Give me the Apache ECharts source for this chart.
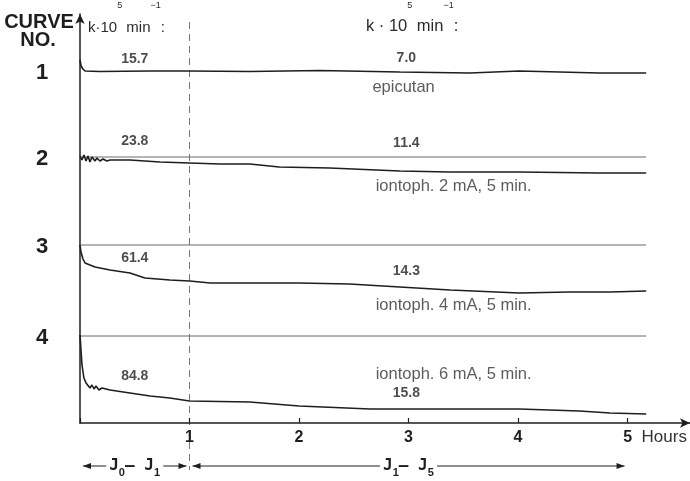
<!DOCTYPE html>
<html>
<head>
<meta charset="utf-8">
<script src="https://cdn.jsdelivr.net/npm/echarts@6/dist/echarts.min.js"></script>
<style>
  html, body { margin: 0; background: #fff; }
  #chart { width: 690px; height: 481px; }
</style>
</head>
<body>
<div id="chart"></div>
<script>
// x = hours, y = trace height above the time axis (arbitrary recorder units)
const curve1 = [[0, 363], [0.01, 357], [0.027, 354], [0.046, 352], [0.18, 351.5], [0.64, 352], [1.0, 352],
  [1.55, 351.5], [2.19, 352.5], [2.92, 351], [3.56, 350], [4.01, 352], [4.38, 351], [4.74, 350], [5.17, 350]]
const curve2 = [[0, 267], [0.018, 263], [0.036, 268], [0.055, 262], [0.073, 267], [0.091, 261], [0.109, 266],
  [0.137, 262], [0.155, 265], [0.182, 262], [0.21, 264], [0.246, 262], [0.274, 263], [0.456, 263], [0.73, 261],
  [1.0, 260], [1.28, 259], [1.55, 259], [1.82, 256], [2.28, 255], [2.92, 252], [3.38, 251], [4.01, 251],
  [4.74, 250], [5.02, 250], [5.17, 250]]
const curve3 = [[0, 178], [0.009, 171], [0.027, 164], [0.046, 160], [0.091, 158], [0.137, 156], [0.274, 153],
  [0.456, 150], [0.593, 145], [0.82, 143], [1.0, 142], [1.19, 140], [1.55, 140], [2.0, 140], [2.46, 139],
  [2.92, 136], [3.38, 133], [4.01, 130], [4.47, 131], [4.84, 131], [5.17, 132]]
const curve4 = [[0, 88], [0.009, 73], [0.018, 58], [0.036, 45], [0.055, 40], [0.073, 38], [0.091, 35],
  [0.109, 38], [0.128, 34], [0.146, 37], [0.173, 33], [0.2, 35], [0.274, 33], [0.456, 30], [0.64, 27],
  [0.82, 25], [1.0, 22], [1.55, 21], [2.0, 17], [2.65, 14], [3.38, 14], [4.01, 14], [4.56, 12], [4.84, 10],
  [5.17, 9]]

const curveNames = ['1', '2', '3', '4']
const baselines = [352, 266, 178, 87]      // zero line of each trace
const traceEnd = 5.17                      // hours recorded

// rate constants k·10^5 min^-1, first hour and hours 1-5
const rateEarly = ['15.7', '23.8', '61.4', '84.8']
const rateEarlyAt = [[0.50, 364], [0.50, 282], [0.50, 165], [0.50, 47]]
const rateLate = ['7.0', '11.4', '14.3', '15.8']
const rateLateAt = [[2.98, 365], [2.98, 280], [2.98, 152], [2.98, 30]]
const conditions = ['epicutan', 'iontoph. 2 mA, 5 min.', 'iontoph. 4 mA, 5 min.', 'iontoph. 6 mA, 5 min.']
const conditionAt = [[2.67, 336], [2.70, 237], [2.70, 118], [2.70, 49]]

const hourTicks = [1, 2, 3, 4, 5]
const periods = [
  { from: 0, to: 1, sub: ['0', '1'] },
  { from: 1, to: 5, sub: ['1', '5'] }
]

const FONT = 'Liberation Sans, Arial, sans-serif'
const NARROW = '"Liberation Sans Narrow", ' + FONT
const INK = '#1e1e1e'

const traceSeries = [curve1, curve2, curve3, curve4].map((d, i) => ({
  name: 'curve ' + curveNames[i],
  type: 'line',
  data: d,
  showSymbol: false,
  silent: true,
  z: 3,
  lineStyle: { color: INK, width: 1.6 }
}))

const baseSeries = baselines.slice(1).map(b => ({
  type: 'line',
  data: [[0, b], [traceEnd, b]],
  showSymbol: false,
  silent: true,
  z: 2,
  lineStyle: { color: '#6a6a6a', width: 1 }
}))

function labelSeries(texts, pos, opts) {
  return {
    type: 'scatter',
    symbolSize: 0,
    silent: true,
    z: 4,
    data: texts.map((t, i) => ({ name: t, value: pos[i] })),
    label: Object.assign({
      show: true,
      formatter: '{b}',
      color: INK,
      fontFamily: FONT
    }, opts)
  }
}

const option = {
  animation: false,
  grid: { left: 80, right: 0, top: 14, bottom: 58 },
  xAxis: {
    type: 'value',
    min: 0,
    max: 5.57,
    interval: 1,
    axisLine: { show: true, lineStyle: { color: INK, width: 1.5 }, symbol: ['none', 'arrow'], symbolSize: [7, 10] },
    axisTick: { show: true, inside: true, length: 5, lineStyle: { color: INK, width: 1.2 } },
    axisLabel: {
      margin: 7,
      color: INK,
      fontFamily: FONT,
      fontSize: 16,
      fontWeight: 'bold',
      showMaxLabel: false,
      formatter: v => (hourTicks.includes(v) ? String(v) : '')
    },
    splitLine: { show: false }
  },
  yAxis: {
    type: 'value',
    min: 0,
    max: 409,
    axisLine: { show: true, lineStyle: { color: INK, width: 1.5 }, symbol: ['none', 'arrow'], symbolSize: [7, 10] },
    axisTick: { show: false },
    axisLabel: { show: false },
    splitLine: { show: false }
  },
  series: [
    ...baseSeries,
    ...traceSeries,
    labelSeries(rateEarly, rateEarlyAt, { position: 'inside', fontSize: 14, fontWeight: 'bold' }),
    labelSeries(rateLate, rateLateAt, { position: 'inside', fontSize: 14, fontWeight: 'bold' }),
    labelSeries(conditions, conditionAt, { position: 'right', distance: 0, fontSize: 16.5, color: '#333' })
  ]
}

const chart = echarts.init(document.getElementById('chart'))
chart.setOption(option)

const px = p => chart.convertToPixel({ gridIndex: 0 }, p)

function header(x, size, base) {
  return {
    type: 'text',
    silent: true,
    style: {
      x: x, y: 1,
      text: '{t|' + base + '}{u|5}{t| min}{u|−1}{t|:}{g| }',
      fill: INK,
      verticalAlign: 'top',
      rich: {
        t: { fontFamily: FONT, fontSize: size, lineHeight: 16, verticalAlign: 'bottom', fill: '#2a2a2a' },
        u: { fontFamily: FONT, fontSize: 9, lineHeight: 12, verticalAlign: 'top', fill: '#2a2a2a' },
        g: { fontSize: 1, lineHeight: 34, verticalAlign: 'bottom' }
      }
    }
  }
}

function arrowHead(x, y, dir) {
  const l = 8, w = 3
  return {
    type: 'polygon',
    silent: true,
    shape: { points: [[x, y], [x - dir * l, y - w], [x - dir * l, y + w]] },
    style: { fill: INK }
  }
}

function periodMarks(p) {
  const y = 466
  const x0 = px([p.from, 0])[0] + 3
  const x1 = px([p.to, 0])[0] - 3
  return [
    { type: 'line', silent: true, shape: { x1: x0, y1: y, x2: x1, y2: y }, style: { stroke: INK, lineWidth: 1 } },
    arrowHead(x0, y, -1),
    arrowHead(x1, y, 1),
    {
      type: 'text',
      silent: true,
      z: 10,
      style: {
        x: (x0 + x1) / 2, y: y - 8,
        text: '{j|J}{s|' + p.sub[0] + '}{j|– J}{s|' + p.sub[1] + '}{g| }',
        align: 'center',
        verticalAlign: 'top',
        backgroundColor: '#fff',
        padding: [0, 3],
        rich: {
          j: { fontFamily: 'DejaVu Sans Mono', fontSize: 16, fontWeight: 'bold', lineHeight: 16, verticalAlign: 'top', fill: INK },
          s: { fontFamily: FONT, fontSize: 11, fontWeight: 'bold', lineHeight: 11, verticalAlign: 'bottom', fill: INK },
          g: { fontSize: 1, lineHeight: 20, verticalAlign: 'bottom' }
        }
      }
    }
  ]
}

const oneHour = px([1, 0])[0]
const fifth = px([5, 0])

const graphics = [
  { type: 'text', silent: true, style: { x: 39, y: 22, text: 'CURVE', align: 'center', verticalAlign: 'middle', fill: INK, font: 'bold 20px ' + NARROW } },
  { type: 'text', silent: true, style: { x: 38, y: 40, text: 'NO.', align: 'center', verticalAlign: 'middle', fill: INK, font: 'bold 20px ' + NARROW } },
  header(88, 15, 'k·10'),
  header(366, 16.5, 'k · 10'),
  {
    type: 'line', silent: true,
    shape: { x1: oneHour, y1: 22, x2: oneHour, y2: 470 },
    style: { stroke: '#777', lineWidth: 1, lineDash: [7, 5] }
  },
  { type: 'text', silent: true, style: { x: fifth[0] + 14, y: fifth[1] + 14, text: 'Hours', verticalAlign: 'middle', fill: '#333', font: '17px ' + FONT } }
]

curveNames.forEach((n, i) => {
  const p = px([0, baselines[i]])
  graphics.push({
    type: 'text', silent: true,
    style: { x: 42, y: p[1] + 2, text: n, align: 'center', verticalAlign: 'middle', fill: INK, font: 'bold 22px ' + NARROW }
  })
})

periods.forEach(p => graphics.push(...periodMarks(p)))

chart.setOption({ graphic: graphics })
</script>
</body>
</html>
